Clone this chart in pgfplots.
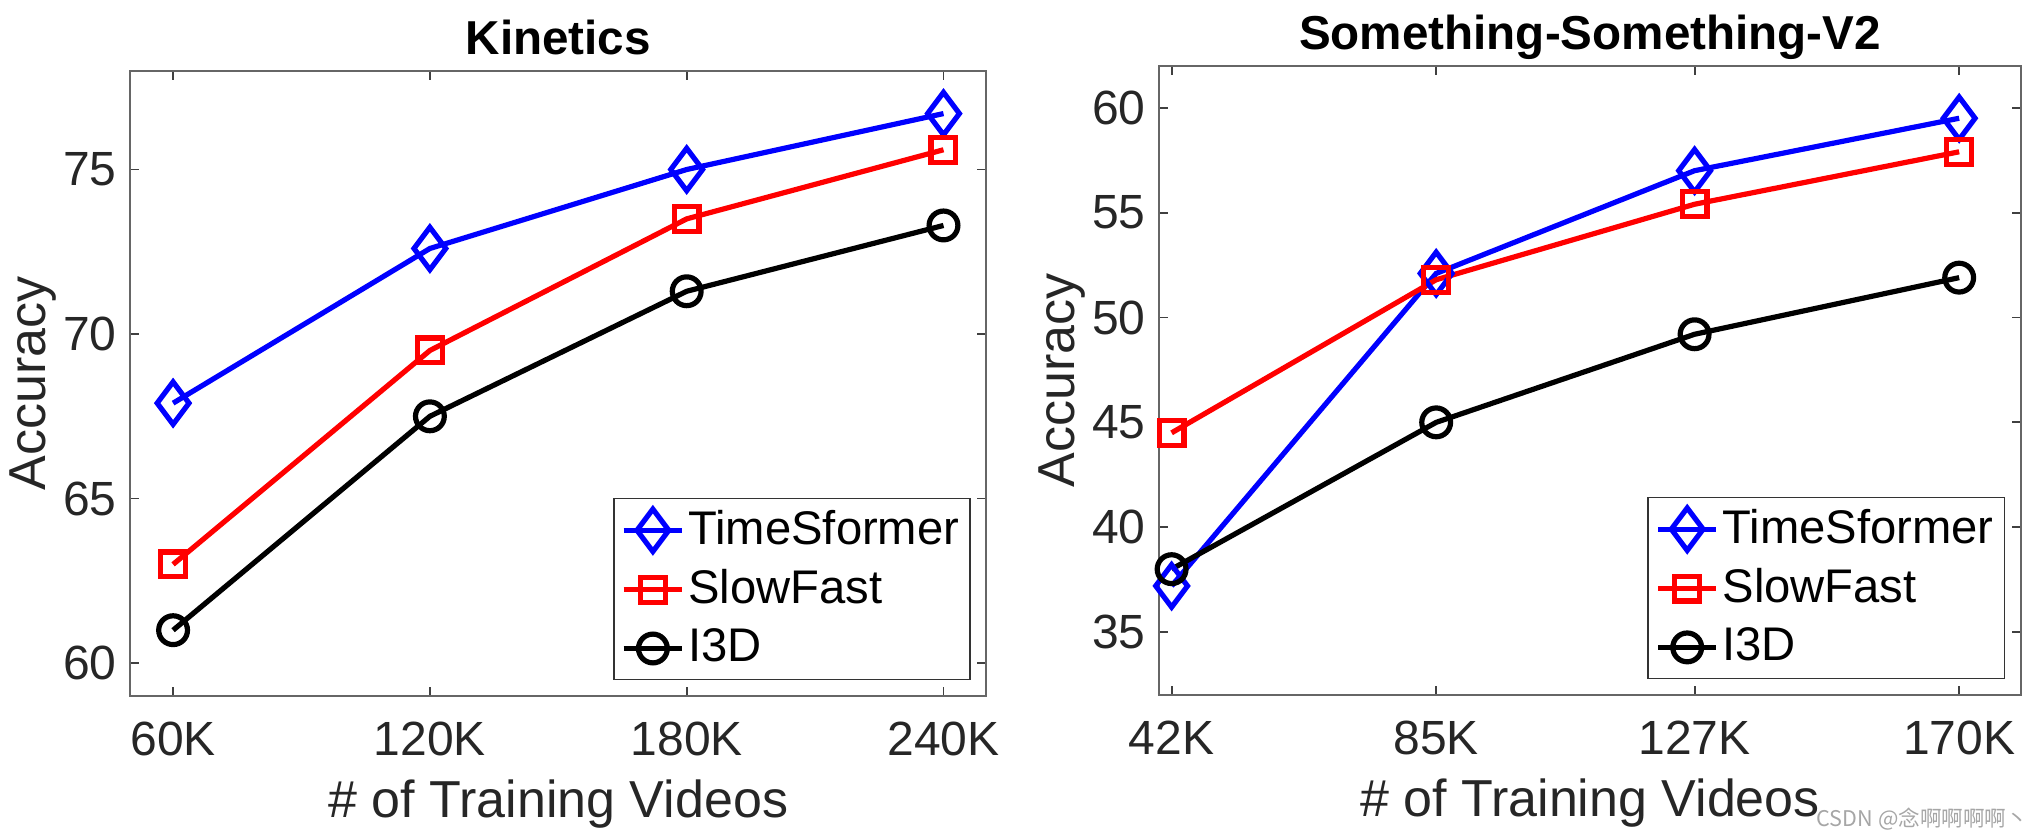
\documentclass[border=0pt]{standalone}
\usepackage{pgfplots}
\pgfplotsset{compat=1.18}
\usepackage{fontspec}
\setmainfont{Liberation Sans}
\newfontfamily\cjk{Noto Sans CJK SC}

\pgfplotsset{
  tsf/.style={blue, line width=1.3pt, mark=diamond, mark size=5.3pt, mark options={solid}},
  slf/.style={red, line width=1.3pt, mark=square, mark size=3.1pt, mark options={solid}},
  itd/.style={black, line width=1.3pt, mark=o, mark size=3.6pt, mark options={solid}},
  myax/.style={
    scale only axis,
    clip=false,
    axis line style={black!60, line width=0.45pt},
    every tick/.style={black!75, line width=0.45pt},
    major tick length=2.2pt,
    tick align=inside,
    /pgf/number format/assume math mode=true,
    yticklabel={\pgfmathprintnumber{\tick}},
    ticklabel style={font=\fontsize{12}{14}\selectfont, text=black!85},
    xticklabel style={anchor=north, inner sep=0pt, yshift=-6.25pt},
    yticklabel style={anchor=east, inner sep=0pt, xshift=-3.25pt},
    label style={font=\fontsize{13}{15}\selectfont, text=black!85},
    xlabel style={at={(axis description cs:0.5,-0.132)}, anchor=north, inner sep=0pt},
    ylabel style={at={(axis description cs:-0.085,0.5)}, anchor=south, inner sep=0pt},
    every axis title shift=0pt,
    title style={at={(axis description cs:0.5,1)}, anchor=base, yshift=4pt, font=\bfseries\fontsize{11.9}{14}\selectfont},
    legend style={at={(axis description cs:0.982,0.025)}, anchor=south east, draw=black!80, line width=0.4pt,
      font=\fontsize{11.8}{14}\selectfont, inner xsep=1.8pt, inner ysep=2pt, row sep=3pt, nodes={inner sep=0.9pt}},
    legend cell align=left,
    legend image code/.code={\draw[mark repeat=2,mark phase=2] plot coordinates {(0pt,0pt) (7.3pt,0pt) (14.6pt,0pt)};},
    xlabel={\# of Training Videos},
    ylabel={Accuracy},
  }
}

\pgfplotstableread{
x   tsf   slf   itd
60  67.9  63.0  61.0
120 72.6  69.5  67.5
180 75.0  73.5  71.3
240 76.7  75.6  73.3
}\kinetics

\pgfplotstableread{
x   tsf   slf   itd
42  37.2  44.5  38.0
85  52.1  51.8  45.0
127 57.0  55.4  49.2
170 59.5  57.9  51.9
}\ssv

\begin{document}
\begin{tikzpicture}
\useasboundingbox (-32.575pt,-35.25pt) rectangle (476.675pt,174pt);
\begin{axis}[myax,
  at={(0pt,0pt)}, anchor=south west,
  width=214pt, height=156.3pt,
  xmin=50, xmax=250, ymin=59, ymax=78,
  xtick={60,120,180,240}, xticklabels={60K,120K,180K,240K},
  ytick={60,65,70,75},
  title={Kinetics},
]
\addplot[tsf] table[x=x,y=tsf] {\kinetics};
\addplot[slf] table[x=x,y=slf] {\kinetics};
\addplot[itd] table[x=x,y=itd] {\kinetics};
\legend{TimeSformer,SlowFast,I3D}
\end{axis}
\begin{axis}[myax,
  at={(257.25pt,0.25pt)}, anchor=south west,
  width=215.35pt, height=157.3pt,
  xmin=40, xmax=180, ymin=32, ymax=62,
  xtick={42,85,127,170}, xticklabels={42K,85K,127K,170K},
  ytick={35,40,45,50,55,60},
  title={Something-Something-V2},
]
\addplot[tsf] table[x=x,y=tsf] {\ssv};
\addplot[slf] table[x=x,y=slf] {\ssv};
\addplot[itd] table[x=x,y=itd] {\ssv};
\legend{TimeSformer,SlowFast,I3D}
\end{axis}
\node[anchor=west, inner sep=0pt, text=black!35, font=\cjk\fontsize{5.4}{6.5}\selectfont] at (421.4pt,-30.75pt) {CSDN @念啊啊啊啊丶};
\end{tikzpicture}
\end{document}
